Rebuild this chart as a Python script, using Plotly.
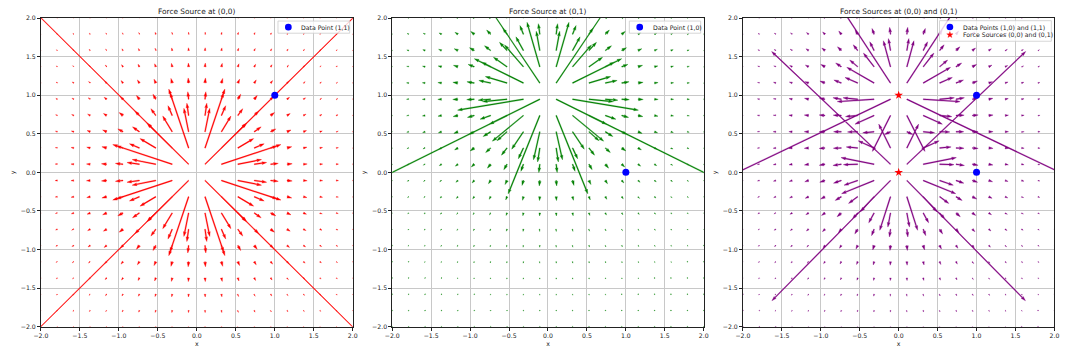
import numpy as np
import plotly.graph_objects as go

# ---------------- data ----------------
grid = np.linspace(-2.0, 2.0, 20)          # quiver sample positions (x and y)
sources_1 = [(0.0, 0.0)]
sources_2 = [(0.0, 1.0)]
sources_3 = [(0.0, 0.0), (0.0, 1.0)]
points_1_x, points_1_y = [1.0], [1.0]
points_2_x, points_2_y = [1.0], [0.0]
points_3_x, points_3_y = [1.0, 1.0], [0.0, 1.0]
star_x, star_y = [0.0, 0.0], [0.0, 1.0]
titles = ["Force Source at (0,0)", "Force Source at (0,1)", "Force Sources at (0,0) and (0,1)"]
legend_labels = [["Data Point (1,1)"], ["Data Point (1,0)"],
                 ["Data Points (1,0) and (1,1)", "Force Sources (0,0) and (0,1)"]]
tick_vals = [-2.0, -1.5, -1.0, -0.5, 0.0, 0.5, 1.0, 1.5, 2.0]
tick_text = ["\u22122.0", "\u22121.5", "\u22121.0", "\u22120.5", "0.0", "0.5", "1.0", "1.5", "2.0"]
colors = ["#ff0000", "#008000", "#800080"]

# ---------------- layout geometry ----------------
W, H = 1068, 351
x_doms = [(33.3, 349.0), (389.0, 704.3), (744.0, 1059.3)]
y_top, y_bot = 14.3, 329.3
ax_px = 315.6
PX = 4.0 / ax_px           # data units per pixel
FS = 6.2                   # base font size
legend_boxes = [(273.3, 345.9, 17.4, 29.8), (629.0, 701.2, 17.4, 29.8), (943.0, 1056.2, 17.0, 38.0)]


def field(sources):
    X, Y = np.meshgrid(grid, grid)
    U = np.zeros_like(X)
    V = np.zeros_like(X)
    for sx, sy in sources:
        dx = X - sx
        dy = Y - sy
        r3 = (dx ** 2 + dy ** 2) ** 1.5
        U += dx / r3
        V += dy / r3
    return X.ravel(), Y.ravel(), U.ravel(), V.ravel()


def arrow_polys(X, Y, U, V):
    """matplotlib-like quiver arrows, computed in pixel units then mapped to data."""
    mag = np.hypot(U, V)
    N = len(mag)
    sn = max(10, np.sqrt(N))
    amean = mag.mean()
    scale = 1.8 * amean * sn          # force per axes-width
    w_px = 0.003 * ax_px              # shaft width in px
    length = mag / scale * ax_px / w_px   # in widths
    hl, hw, hal, minsh, minlen = 5.0, 3.0, 4.5, 5.0, 1.0
    xs, ys = [], []
    ii = [0, 1, 2, 3, 2, 1, 0, 0]
    for i in range(N):
        L = length[i]
        if L < minlen:
            th = np.arange(0, 8) * (np.pi / 3.0)
            px_ = np.cos(th) * minlen * 0.5
            py_ = np.sin(th) * minlen * 0.5
        else:
            if L < minsh:
                x = np.array([0, minsh - hal, minsh - hl, minsh]) * (L / minsh)
                y = 0.5 * np.array([1, 1, hw, 0]) * (L / minsh)
            else:
                x = np.array([0, L - hal, L - hl, L])
                y = 0.5 * np.array([1, 1, hw, 0])
            px_ = x[ii]
            py_ = y[ii].copy()
            py_[3:-1] *= -1
        ang = np.arctan2(V[i], U[i])
        c, s = np.cos(ang), np.sin(ang)
        rx = (px_ * c - py_ * s) * w_px * PX + X[i]
        ry = (px_ * s + py_ * c) * w_px * PX + Y[i]
        xs.extend(rx.tolist()); xs.append(None)
        ys.extend(ry.tolist()); ys.append(None)
    return xs, ys


fig = go.Figure()
all_sources = [sources_1, sources_2, sources_3]
for p in range(3):
    X, Y, U, V = field(all_sources[p])
    ax_, ay_ = arrow_polys(X, Y, U, V)
    sfx = "" if p == 0 else str(p + 1)
    fig.add_trace(go.Scatter(x=ax_, y=ay_, mode="lines", fill="toself",
                             fillcolor=colors[p], line=dict(color=colors[p], width=0.35),
                             hoverinfo="skip", showlegend=False,
                             xaxis="x" + sfx, yaxis="y" + sfx))

fig.add_trace(go.Scatter(x=points_1_x, y=points_1_y, mode="markers", name=legend_labels[0][0],
                         marker=dict(color="blue", size=7), xaxis="x", yaxis="y", showlegend=False))
fig.add_trace(go.Scatter(x=points_2_x, y=points_2_y, mode="markers", name=legend_labels[1][0],
                         marker=dict(color="blue", size=7), xaxis="x2", yaxis="y2", showlegend=False))
fig.add_trace(go.Scatter(x=points_3_x, y=points_3_y, mode="markers", name=legend_labels[2][0],
                         marker=dict(color="blue", size=7), xaxis="x3", yaxis="y3", showlegend=False))
fig.add_trace(go.Scatter(x=star_x, y=star_y, mode="markers", name=legend_labels[2][1],
                         marker=dict(color="red", size=6.5, symbol="star"), xaxis="x3", yaxis="y3",
                         showlegend=False))


def px2paper(x, y):
    return x / W, 1 - y / H


def star_path(cx, cy, ro, ri):
    pts = []
    for k in range(10):
        r = ro if k % 2 == 0 else ri
        a = -np.pi / 2 + k * np.pi / 5
        pts.append(px2paper(cx + r * np.cos(a), cy + r * np.sin(a)))
    return "M " + " L ".join(f"{a:.5f},{b:.5f}" for a, b in pts) + " Z"


layout = dict(width=W, height=H, margin=dict(l=0, r=0, t=0, b=0), autosize=False,
              paper_bgcolor="white", plot_bgcolor="white", showlegend=False,
              font=dict(family="DejaVu Sans", size=FS, color="#222"))
ann = []
shapes = []
for p in range(3):
    sfx = "" if p == 0 else str(p + 1)
    x0, x1 = x_doms[p]
    axis_common = dict(range=[-2, 2], showgrid=True, gridcolor="#c8c8c8", gridwidth=0.7,
                       zeroline=False, showline=True, linecolor="#222", linewidth=0.8, mirror=True,
                       ticks="outside", ticklen=3, tickwidth=0.7, tickcolor="#222",
                       tickvals=tick_vals, ticktext=tick_text,
                       tickfont=dict(size=FS, family="DejaVu Sans", color="#222"))
    layout["xaxis" + sfx] = dict(axis_common, domain=[x0 / W, x1 / W], anchor="y" + sfx,
                                 title=dict(text="x", standoff=3, font=dict(size=FS)))
    layout["yaxis" + sfx] = dict(axis_common, domain=[1 - y_bot / H, 1 - y_top / H], anchor="x" + sfx,
                                 title=dict(text="y", standoff=4, font=dict(size=FS)))
    ann.append(dict(text=titles[p], x=(x0 + x1) / 2 / W, y=1 - 7.3 / H, xref="paper", yref="paper",
                    xanchor="center", yanchor="middle", showarrow=False,
                    font=dict(size=7.4, family="DejaVu Sans", color="#222")))
    # legend box (matplotlib style)
    bl, br, bt, bb = legend_boxes[p]
    shapes.append(dict(type="rect", xref="paper", yref="paper", layer="above",
                       x0=bl / W, x1=br / W, y0=1 - bb / H, y1=1 - bt / H,
                       fillcolor="rgba(255,255,255,0.8)", line=dict(color="#cccccc", width=0.8)))
    n = len(legend_labels[p])
    row_h = (bb - bt - 5.0) / n
    for j, lab in enumerate(legend_labels[p]):
        cy = bt + 2.5 + row_h * (j + 0.5)
        cx = bl + 10.5
        if p == 2 and j == 1:
            shapes.append(dict(type="path", xref="paper", yref="paper", layer="above",
                               path=star_path(cx, cy, 3.4, 1.4), fillcolor="red",
                               line=dict(color="red", width=0.3)))
        else:
            shapes.append(dict(type="circle", xref="paper", yref="paper", layer="above",
                               x0=(cx - 3.4) / W, x1=(cx + 3.4) / W,
                               y0=1 - (cy + 3.4) / H, y1=1 - (cy - 3.4) / H,
                               fillcolor="blue", line=dict(color="blue", width=0)))
        ann.append(dict(text=lab, x=(bl + 21.5) / W, y=1 - cy / H, xref="paper", yref="paper",
                        xanchor="left", yanchor="middle", showarrow=False,
                        font=dict(size=FS, family="DejaVu Sans", color="#222")))
layout["annotations"] = ann
layout["shapes"] = shapes
fig.update_layout(**layout)
fig.write_html("out.html")
